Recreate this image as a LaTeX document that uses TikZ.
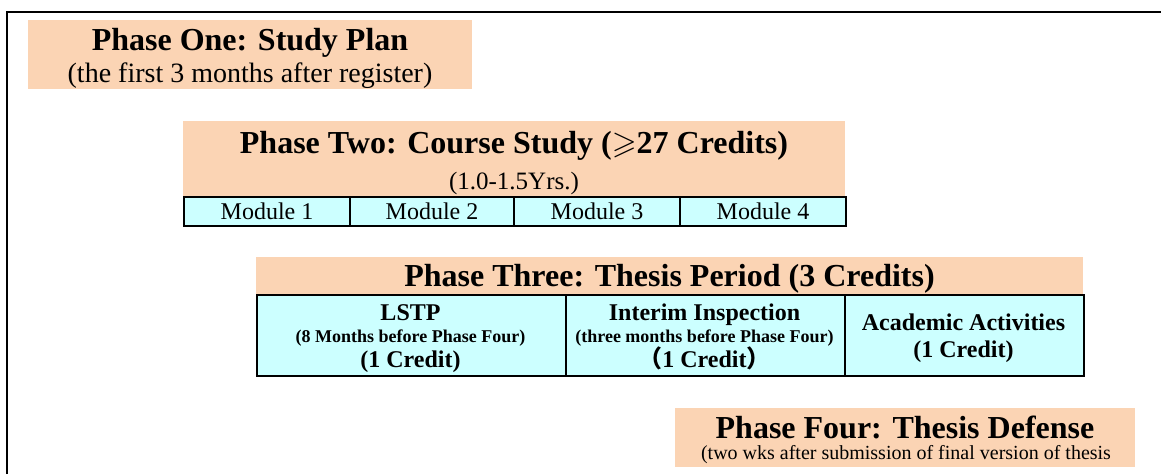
\documentclass[tikz,border=0pt]{standalone}
\usepackage{amssymb}
\usepackage{fontspec}
\setmainfont{Liberation Serif}
\newfontfamily\cjk{Noto Sans CJK SC}
\definecolor{phasetan}{RGB}{251,212,180}
\definecolor{cellcyan}{RGB}{204,255,255}
\tikzset
{
    phasebox/.style  = {rectangle, fill=phasetan, inner sep=0pt, anchor=north west},
    cellbox/.style   = {rectangle, draw=black, line width=2pt, fill=cellcyan, inner sep=0pt, anchor=north west, font=\fontsize{24}{24}\selectfont},
    headtext/.style  = {anchor=base, inner sep=0pt, text depth=0pt, font=\bfseries\fontsize{32}{32}\selectfont},
    plaintext/.style = {anchor=base, inner sep=0pt, font=\fontsize{#1}{#1}\selectfont},
    boldtext/.style  = {anchor=base, inner sep=0pt, font=\bfseries\fontsize{#1}{#1}\selectfont}
}
\newcommand{\widechar}[1]{{\cjk #1}}

\begin{document}
\begin{tikzpicture}[x=1pt, y=-1pt]
\useasboundingbox (0,0) rectangle (1161,474);
\draw[line width=2pt] (7,474) -- (7,12) -- (1161,12);

\node (p1)[phasebox, minimum width=444pt, minimum height=69pt]		at (28,20)		{};
\node (p1a)[headtext] 				at (250,50)		{Phase One: Study Plan};
\node (p1b)[plaintext=28] 			at (250,82)		{(the first 3 months after register)};

\node (p2)[phasebox, minimum width=662pt, minimum height=75pt]		at (183,121)	{};
\node (p2a)[headtext] 				at (514,153)	{Phase Two: Course Study ($\geqslant$27 Credits)};
\node (p2b)[plaintext=25] 			at (514,189)	{(1.0-1.5Yrs.)};
\node (m1)[cellbox, minimum width=166pt, minimum height=29pt]		at (183,196)	{Module 1};
\node (m2)[cellbox, minimum width=164pt, minimum height=29pt]		at (349,196)	{Module 2};
\node (m3)[cellbox, minimum width=166pt, minimum height=29pt]		at (513,196)	{Module 3};
\node (m4)[cellbox, minimum width=166pt, minimum height=29pt]		at (679,196)	{Module 4};

\node (p3)[phasebox, minimum width=827pt, minimum height=37pt]		at (256,257)	{};
\node (p3a)[headtext] 				at (669.5,286)	{Phase Three: Thesis Period (3 Credits)};
\node (c1)[cellbox, minimum width=309pt, minimum height=81pt]		at (256,294)	{};
\node (c2)[cellbox, minimum width=279pt, minimum height=81pt]		at (565,294)	{};
\node (c3)[cellbox, minimum width=239pt, minimum height=81pt]		at (844,294)	{};
\node (c1a)[boldtext=24] 			at (410.5,320)	{LSTP};
\node (c1b)[boldtext=18] 			at (410.5,342)	{(8 Months before Phase Four)};
\node (c1c)[boldtext=24] 			at (410.5,367)	{(1 Credit)};
\node (c2a)[boldtext=24] 			at (704.5,320)	{Interim Inspection};
\node (c2b)[boldtext=18] 			at (704.5,342)	{(three months before Phase Four)};
\node (c2c)[boldtext=24] 			at (704.5,367)	{\widechar{（}1 Credit\widechar{）}};
\node (c3a)[boldtext=24] 			at (963.5,330)	{Academic Activities};
\node (c3b)[boldtext=24] 			at (963.5,357)	{(1 Credit)};

\node (p4)[phasebox, minimum width=460pt, minimum height=59pt]		at (675,408)	{};
\node (p4a)[headtext] 				at (905,438)	{Phase Four: Thesis Defense};
\node (p4b)[plaintext=20] 			at (906,459)	{(two wks after submission of final version of thesis};

\end{tikzpicture}
\end{document}
